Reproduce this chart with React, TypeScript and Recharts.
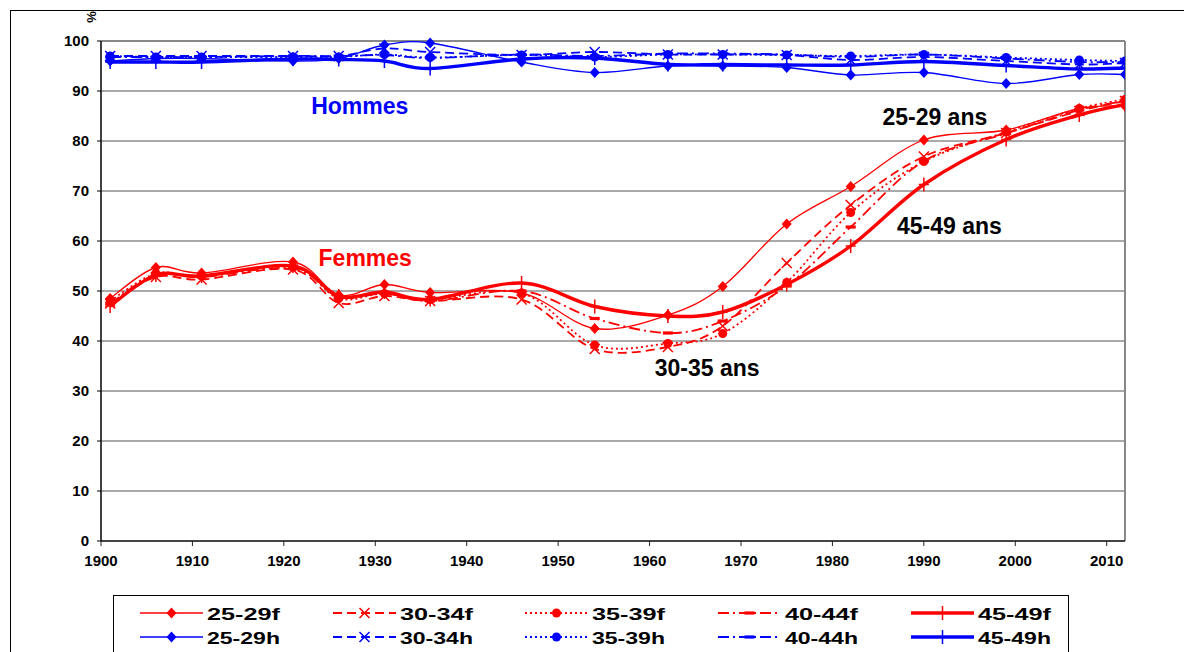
import { LineChart, Line, XAxis, YAxis, CartesianGrid, ReferenceLine, ReferenceDot, Legend } from 'recharts'

const years = [1901, 1906, 1911, 1921, 1926, 1931, 1936, 1946, 1954, 1962, 1968, 1975, 1982, 1990, 1999, 2007, 2012]

const f2529 = [48.5, 54.7, 53.6, 55.8, 49.2, 51.3, 49.7, 49.6, 42.5, 45.2, 50.9, 63.4, 70.9, 80.2, 82.2, 86.5, 87.0]
const f3034 = [47.5, 52.8, 52.3, 54.3, 47.6, 49.0, 48.0, 48.3, 38.4, 38.8, 43.0, 55.6, 67.2, 76.9, 81.6, 86.0, 88.0]
const f3539 = [48.0, 53.5, 53.0, 54.8, 48.5, 49.5, 48.3, 49.6, 39.2, 39.5, 41.5, 51.7, 65.7, 75.9, 81.8, 86.5, 88.3]
const f4044 = [47.5, 53.3, 52.8, 54.5, 48.8, 49.5, 48.0, 50.0, 44.5, 41.6, 44.0, 51.0, 62.8, 76.0, 81.5, 86.2, 88.0]
const f4549 = [47.0, 53.2, 53.0, 55.0, 49.0, 49.8, 48.3, 51.6, 46.9, 45.0, 45.8, 51.3, 59.0, 71.3, 80.3, 85.2, 87.3]

const h2529 = [96.0, 96.5, 96.5, 96.0, 96.5, 99.2, 99.6, 95.8, 93.7, 95.0, 95.0, 94.7, 93.2, 93.7, 91.5, 93.3, 93.3]
const h3034 = [97.0, 97.0, 97.0, 97.0, 97.0, 98.5, 97.8, 97.2, 97.8, 97.3, 97.3, 97.2, 96.2, 96.8, 96.0, 95.3, 95.6]
const h3539 = [97.0, 96.8, 96.8, 96.8, 96.8, 97.3, 96.7, 97.2, 96.8, 97.3, 97.3, 97.2, 97.0, 97.3, 96.7, 96.2, 96.0]
const h4044 = [96.8, 96.8, 96.8, 97.0, 97.0, 97.2, 96.6, 97.3, 97.0, 97.5, 97.5, 97.3, 96.8, 97.3, 96.5, 95.8, 95.8]
const h4549 = [95.8, 95.8, 95.8, 96.4, 96.3, 96.0, 94.5, 96.4, 96.6, 95.3, 95.3, 95.2, 95.2, 95.9, 95.1, 94.4, 94.6]

const xTicks = [1900, 1910, 1920, 1930, 1940, 1950, 1960, 1970, 1980, 1990, 2000, 2010]
const yTicks = [0, 10, 20, 30, 40, 50, 60, 70, 80, 90, 100]

const data = years.map((year, i) => ({
  year,
  f2529: f2529[i], f3034: f3034[i], f3539: f3539[i], f4044: f4044[i], f4549: f4549[i],
  h2529: h2529[i], h3034: h3034[i], h3539: h3539[i], h4044: h4044[i], h4549: h4549[i],
}))

const RED = '#ff0000'
const BLUE = '#0000ff'

type Shape = 'diamond' | 'x' | 'circle' | 'dash' | 'plus'

const styles: { suffix: string; width: number; dash?: string; shape: Shape }[] = [
  { suffix: '2529', width: 1.3, shape: 'diamond' },
  { suffix: '3034', width: 1.8, dash: '9 5', shape: 'x' },
  { suffix: '3539', width: 1.8, dash: '2 3', shape: 'circle' },
  { suffix: '4044', width: 1.8, dash: '11 4 2 4', shape: 'dash' },
  { suffix: '4549', width: 3.4, shape: 'plus' },
]

const series = [
  ...styles.map((s) => ({ ...s, key: 'f' + s.suffix, name: s.suffix.slice(0, 2) + '-' + s.suffix.slice(2) + 'f', color: RED })),
  ...styles.map((s) => ({ ...s, key: 'h' + s.suffix, name: s.suffix.slice(0, 2) + '-' + s.suffix.slice(2) + 'h', color: BLUE })),
]

const notes = [
  { text: 'Hommes', x: 1928.3, y: 87, color: BLUE },
  { text: 'Femmes', x: 1928.9, y: 56.6, color: RED },
  { text: '25-29 ans', x: 1991.2, y: 84.8, color: '#000' },
  { text: '45-49 ans', x: 1992.8, y: 63, color: '#000' },
  { text: '30-35 ans', x: 1966.3, y: 34.6, color: '#000' },
]

// Excel-like smoothing (Catmull-Rom as cubic beziers)
function excelCurve(context: any) {
  let pts: number[][] = []
  return {
    areaStart() {},
    areaEnd() {},
    lineStart() { pts = [] },
    point(x: number, y: number) { pts.push([+x, +y]) },
    lineEnd() {
      const n = pts.length
      if (!n) return
      context.moveTo(pts[0][0], pts[0][1])
      for (let i = 0; i < n - 1; i++) {
        const p0 = pts[i === 0 ? 0 : i - 1]
        const p1 = pts[i]
        const p2 = pts[i + 1]
        const p3 = pts[i + 2 < n ? i + 2 : n - 1]
        context.bezierCurveTo(
          p1[0] + (p2[0] - p0[0]) / 6, p1[1] + (p2[1] - p0[1]) / 6,
          p2[0] - (p3[0] - p1[0]) / 6, p2[1] - (p3[1] - p1[1]) / 6,
          p2[0], p2[1]
        )
      }
    },
  }
}

const marker = (shape: Shape, color: string, cx: number, cy: number, key?: any) => {
  if (cx == null || cy == null) return <g key={key} />
  switch (shape) {
    case 'diamond':
      return <path key={key} d={`M${cx} ${cy - 5.5}L${cx + 5} ${cy}L${cx} ${cy + 5.5}L${cx - 5} ${cy}Z`} fill={color} />
    case 'x':
      return <path key={key} d={`M${cx - 5} ${cy - 5}L${cx + 5} ${cy + 5}M${cx + 5} ${cy - 5}L${cx - 5} ${cy + 5}`} stroke={color} strokeWidth={1.5} />
    case 'circle':
      return <circle key={key} cx={cx} cy={cy} r={4.5} fill={color} />
    case 'dash':
      return <rect key={key} x={cx - 5} y={cy - 1.6} width={10} height={3.2} fill={color} />
    default:
      return <path key={key} d={`M${cx - 5} ${cy}H${cx + 5}M${cx} ${cy - 7}V${cy + 7}`} stroke={color} strokeWidth={1.5} />
  }
}

const font = '"Liberation Sans", Arial, sans-serif'

const LegendBox = () => (
  <div style={{ width: 956, height: 57, boxSizing: 'border-box', border: '1px solid #000', borderBottom: 'none', background: '#fff', position: 'relative' }}>
    {series.map((s, i) => {
      const row = i < 5 ? 0 : 1
      const col = i % 5
      return (
        <svg key={s.key} width={150} height={20} style={{ position: 'absolute', left: 26 + col * 192.7, top: row ? 31 : 7 }}>
          <line x1={0} x2={63} y1={10} y2={10} stroke={s.color} strokeWidth={s.width} strokeDasharray={s.dash} />
          {marker(s.shape, s.color, 31.5, 10)}
          <text x={67} y={16.5} fontFamily={font} fontWeight="bold" fontSize={17} textLength={73} lengthAdjust="spacingAndGlyphs" fill="#000">
            {s.name}
          </text>
        </svg>
      )
    })}
  </div>
)

const tickStyle = { fontFamily: font, fontWeight: 'bold', fontSize: 15, fill: '#000' }

export default function App() {
  return (
    <div style={{ position: 'relative', width: 1184, height: 644, overflow: 'hidden', background: '#fff' }}>
      <div style={{ position: 'absolute', left: 2, top: 2, right: 0, bottom: 0, borderTop: '1px solid #000', borderLeft: '1px solid #000' }} />
      <div style={{ position: 'absolute', left: 77, top: 2, width: 14, height: 14, fontFamily: font, fontWeight: 'bold', fontSize: 13, transform: 'rotate(-90deg)', textAlign: 'center', lineHeight: '14px' }}>%</div>
      <LineChart width={1184} height={644} data={data} margin={{ top: 33, right: 67, bottom: 81, left: 0 }}>
        <CartesianGrid vertical={false} stroke="#555" horizontalValues={yTicks} />
        <XAxis
          type="number"
          dataKey="year"
          domain={[1900, 2012]}
          ticks={xTicks}
          allowDataOverflow
          height={30}
          tick={tickStyle}
          tickSize={5}
          tickMargin={9}
          axisLine={{ stroke: '#222', strokeWidth: 1.5 }}
          tickLine={{ stroke: '#222' }}
        />
        <YAxis
          type="number"
          domain={[0, 100]}
          ticks={yTicks}
          width={93}
          tick={tickStyle}
          tickSize={4}
          tickMargin={8}
          axisLine={{ stroke: '#000', strokeWidth: 1.5 }}
          tickLine={{ stroke: '#000' }}
        />
        <ReferenceLine y={100} stroke="#888" strokeWidth={2} />
        <ReferenceLine x={2012} stroke="#888" strokeWidth={2} />
        {series.map((s) => (
          <Line
            key={s.key}
            dataKey={s.key}
            name={s.name}
            type={excelCurve as any}
            stroke={s.color}
            strokeWidth={s.width}
            strokeDasharray={s.dash}
            isAnimationActive={false}
            dot={(p: any) => marker(s.shape, s.color, p.cx, p.cy, p.key ?? `${s.key}-${p.index}`)}
            activeDot={false}
          />
        ))}
        {notes.map((n) => (
          <ReferenceDot
            key={n.text}
            x={n.x}
            y={n.y}
            r={1}
            fill="none"
            stroke="none"
            label={{ value: n.text, position: 'center', fill: n.color, fontSize: 23, fontWeight: 'bold', fontFamily: font }}
          />
        ))}
        <Legend
          layout="vertical"
          align="center"
          verticalAlign="middle"
          wrapperStyle={{ left: 105, top: 587, width: 956, height: 57 }}
          content={() => <LegendBox />}
        />
      </LineChart>
    </div>
  )
}
